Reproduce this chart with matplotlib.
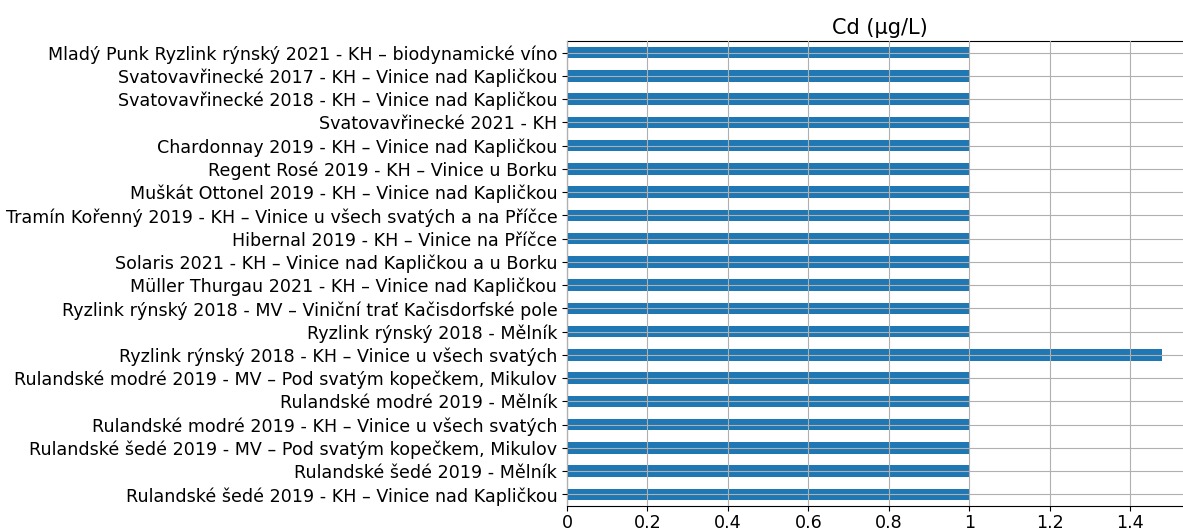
import matplotlib
matplotlib.use("Agg")
import matplotlib.pyplot as plt
from matplotlib.ticker import FuncFormatter

plt.rcParams["font.family"] = ["DejaVu Sans"]

# categories top-to-bottom as shown
categories = [
    "Mladý Punk Ryzlink rýnský 2021 - KH – biodynamické víno",
    "Svatovavřinecké 2017 - KH – Vinice nad Kapličkou",
    "Svatovavřinecké 2018 - KH – Vinice nad Kapličkou",
    "Svatovavřinecké 2021 - KH",
    "Chardonnay 2019 - KH – Vinice nad Kapličkou",
    "Regent Rosé 2019 - KH – Vinice u Borku",
    "Muškát Ottonel 2019 - KH – Vinice nad Kapličkou",
    "Tramín Kořenný 2019 - KH – Vinice u všech svatých a na Příčce",
    "Hibernal 2019 - KH – Vinice na Příčce",
    "Solaris 2021 - KH – Vinice nad Kapličkou a u Borku",
    "Müller Thurgau 2021 - KH – Vinice nad Kapličkou",
    "Ryzlink rýnský 2018 - MV – Viniční trať Kačisdorfské pole",
    "Ryzlink rýnský 2018 - Mělník",
    "Ryzlink rýnský 2018 - KH – Vinice u všech svatých",
    "Rulandské modré 2019 - MV – Pod svatým kopečkem, Mikulov",
    "Rulandské modré 2019 - Mělník",
    "Rulandské modré 2019 - KH – Vinice u všech svatých",
    "Rulandské šedé 2019 - MV – Pod svatým kopečkem, Mikulov",
    "Rulandské šedé 2019 - Mělník",
    "Rulandské šedé 2019 - KH – Vinice nad Kapličkou",
]
cd_values = [1, 1, 1, 1, 1, 1, 1, 1, 1, 1, 1, 1, 1, 1.48, 1, 1, 1, 1, 1, 1]
title = "Cd (µg/L)"
xticks = [0, 0.2, 0.4, 0.6, 0.8, 1.0, 1.2, 1.4]

W, H = 1183, 530
fig = plt.figure(figsize=(W / 100, H / 100), dpi=100)
left, right = 567 / W, 1192 / W
top, bottom = 1 - 41 / H, 1 - 506 / H
ax = fig.add_axes([left, bottom, right - left, top - bottom])

n = len(categories)
ypos = [n - 1 - i for i in range(n)]
ax.barh(ypos, cd_values, height=0.5, color="#1f77b4", zorder=1)
ax.set_ylim(-0.5, n - 0.5)
ax.set_xlim(0, max(cd_values) * 1.05)
ax.set_yticks(ypos)
ax.set_yticklabels(categories)
ax.set_xticks(xticks)
ax.xaxis.set_major_formatter(FuncFormatter(lambda v, p: f"{v:g}"))
ax.tick_params(labelsize=12.6, colors="black")
ax.tick_params(axis="x", pad=2.5)
ax.grid(True, color="#b0b0b0", linewidth=0.8, zorder=2)
ax.set_axisbelow(False)
ax.set_title(title, fontsize=15, pad=5)

fig.savefig("out.png", dpi=100)
